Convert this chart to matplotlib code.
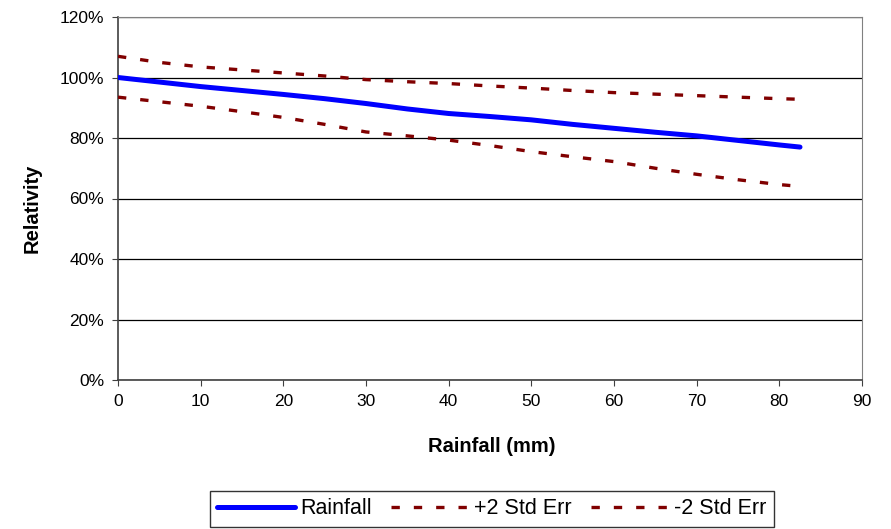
import matplotlib
matplotlib.use("Agg")
import matplotlib.pyplot as plt
import matplotlib.ticker as mtick

plt.rcParams["font.family"] = ["Liberation Sans", "DejaVu Sans"]

# rainfall (mm) and relativity (%)
rainfall = [0, 5, 10, 15, 20, 25, 30, 35, 40, 45, 50, 55, 60, 65, 70, 75, 80, 82.5]
relativity = [100, 98.5, 97, 95.7, 94.4, 93, 91.4, 89.6, 88.1, 87.1, 86, 84.5,
              83.2, 81.9, 80.7, 79.2, 77.7, 77]
upper = [107, 105, 103.5, 102.5, 101.5, 100.5, 99.3, 98.6, 98, 97.2, 96.5, 95.7,
         95, 94.5, 94, 93.5, 93, 92.8]
lower = [93.5, 92, 90.5, 88.7, 86.8, 84.5, 82, 80.7, 79.3, 77.5, 75.5, 73.8,
         72.2, 70, 68, 66.2, 64.6, 64]

fig = plt.figure(figsize=(8.91, 5.29), dpi=100)
ax = fig.add_axes([118 / 891, 1 - 380 / 529, 744 / 891, 363 / 529])

ax.plot(rainfall, relativity, color="#0000ff", linewidth=3.6, label="Rainfall",
        solid_capstyle="round", zorder=3)
ax.plot(rainfall, upper, color="#800000", linewidth=2.4, dashes=(2.5, 4.2),
        label="+2 Std Err", zorder=3)
ax.plot(rainfall, lower, color="#800000", linewidth=2.4, dashes=(2.5, 4.2),
        label="-2 Std Err", zorder=3)

ax.set_xlim(0, 90)
ax.set_ylim(0, 120)
ax.set_xticks(range(0, 91, 10))
ax.set_yticks(range(0, 121, 20))
ax.yaxis.set_major_formatter(mtick.FuncFormatter(lambda v, _: f"{v:.0f}%"))
ax.yaxis.grid(True, color="black", linewidth=0.9)
ax.tick_params(axis="both", labelsize=12.5, direction="out", length=4,
               color="#404040", pad=6)

for side in ["top", "right"]:
  ax.spines[side].set_color("#808080")
for side in ["left", "bottom"]:
  ax.spines[side].set_color("#404040")
  ax.spines[side].set_linewidth(1.2)

ax.set_xlabel("Rainfall (mm)", fontsize=14.5, fontweight="bold", va="center")
ax.set_ylabel("Relativity", fontsize=14.5, fontweight="bold", va="center")
ax.xaxis.set_label_coords(492 / 891, 1 - 447 / 529, transform=fig.transFigure)
ax.yaxis.set_label_coords(32 / 891, 1 - 208 / 529, transform=fig.transFigure)

fig.legend(loc="center", bbox_to_anchor=(492 / 891, 1 - 509 / 529), ncol=3,
           fontsize=15.5, frameon=True, fancybox=False, edgecolor="black",
           handlelength=3.6, handletextpad=0.25, columnspacing=0.9,
           borderpad=0.35, borderaxespad=0)

fig.savefig("out.png", dpi=100)
